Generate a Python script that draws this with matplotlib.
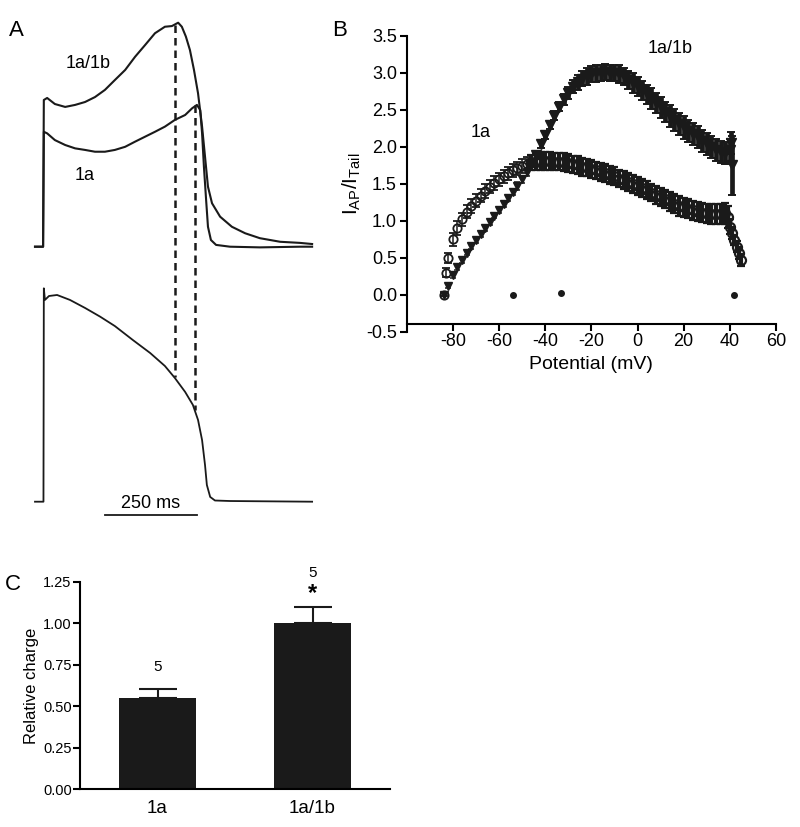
import matplotlib
matplotlib.use("Agg")
import matplotlib.pyplot as plt

plt.rcParams['font.family'] = ['Liberation Sans', 'DejaVu Sans']
plt.rcParams['mathtext.fontset'] = 'custom'
plt.rcParams['mathtext.rm'] = 'Liberation Sans'
plt.rcParams['axes.unicode_minus'] = False

# ---- panel A: currents during AP clamp (normalised) and the AP command (mV)
t_ab = [0, 22, 24, 33, 54, 82, 109, 136, 163, 190, 217, 245, 272, 299, 326, 353,
        372, 389, 399, 410, 421, 432, 443, 454, 462, 470, 481, 503, 535, 571, 611,
        666, 720, 753]
i_trace_ab = [0.0, 0.0, 0.655, 0.664, 0.637, 0.624, 0.633, 0.646, 0.668, 0.70, 0.744,
              0.789, 0.848, 0.90, 0.953, 0.982, 0.985, 1.0, 0.982, 0.938, 0.878, 0.789,
              0.685, 0.536, 0.402, 0.268, 0.194, 0.134, 0.089, 0.06, 0.038, 0.022,
              0.017, 0.012]
t_a = [0, 22, 24, 33, 54, 82, 109, 136, 163, 190, 217, 245, 272, 299, 326, 353,
       380, 408, 427, 440, 449, 454, 459, 465, 470, 478, 492, 530, 611, 720, 753]
i_trace_a = [0.0, 0.0, 0.513, 0.506, 0.476, 0.454, 0.439, 0.432, 0.424, 0.424, 0.432,
             0.446, 0.469, 0.491, 0.513, 0.536, 0.566, 0.588, 0.618, 0.633, 0.61,
             0.506, 0.357, 0.208, 0.089, 0.03, 0.008, 0.0, -0.003, 0.0, 0.0]
t_ap = [0, 23, 24, 27, 38, 60, 95, 136, 177, 217, 266, 313, 353, 380, 408, 429,
        443, 454, 462, 467, 476, 489, 530, 753]
v_ap = [-85, -85, 40, 33.2, 35.5, 36.1, 33.2, 28.5, 23.4, 17.9, 9.7, 2.1, -5.5,
        -12.5, -20.7, -28.3, -37.1, -48.9, -63.5, -75.2, -82.2, -84.3, -84.6, -85]
mark_t = [380, 435]
mark_i = [0.99, 0.633]
mark_v = [-12.0, -31.3]

# ---- panel B: I_AP / I_Tail versus potential
v_ab = [-84, -82, -80, -78, -76, -74, -72, -70, -68, -66, -64, -62, -60, -58, -56,
        -54, -52, -50, -48, -46, -44, -42, -40, -38, -36, -34, -32, -30, -28, -26,
        -24, -22, -20, -18, -16, -14, -12, -10, -8, -6, -4, -2, 0, 2, 4, 6, 8, 10,
        12, 14, 16, 18, 20, 22, 24, 26, 28, 30, 32, 34, 36, 38, 40, 40.5, 41]
r_ab = [0.0, 0.12, 0.27, 0.37, 0.47, 0.57, 0.66, 0.74, 0.82, 0.90, 0.98, 1.07, 1.15,
        1.23, 1.31, 1.39, 1.47, 1.56, 1.66, 1.77, 1.89, 2.03, 2.16, 2.29, 2.42, 2.54,
        2.64, 2.73, 2.81, 2.87, 2.92, 2.95, 2.98, 2.99, 3.00, 3.01, 3.00, 3.00, 2.98,
        2.95, 2.90, 2.86, 2.81, 2.76, 2.71, 2.65, 2.59, 2.53, 2.47, 2.41, 2.36, 2.31,
        2.26, 2.21, 2.17, 2.13, 2.08, 2.04, 2.00, 1.96, 1.93, 1.92, 1.95, 2.05, 1.75]
e_ab = [0.02, 0.03, 0.04, 0.04, 0.04, 0.04, 0.04, 0.04, 0.04, 0.04, 0.04, 0.04, 0.04,
        0.04, 0.04, 0.04, 0.05, 0.05, 0.05, 0.05, 0.05, 0.05, 0.05, 0.05, 0.06, 0.06,
        0.07, 0.08, 0.09, 0.10, 0.10, 0.11, 0.11, 0.11, 0.11, 0.11, 0.11, 0.11, 0.12,
        0.12, 0.12, 0.13, 0.13, 0.13, 0.13, 0.14, 0.14, 0.14, 0.14, 0.15, 0.15, 0.15,
        0.15, 0.15, 0.15, 0.15, 0.15, 0.15, 0.15, 0.15, 0.15, 0.15, 0.16, 0.15, 0.40]
v_a = [-84, -83, -82, -80, -78, -76, -74, -72, -70, -68, -66, -64, -62, -60, -58,
       -56, -54, -52, -50, -48, -46, -44, -42, -40, -38, -36, -34, -32, -30, -28,
       -26, -24, -22, -20, -18, -16, -14, -12, -10, -8, -6, -4, -2, 0, 2, 4, 6, 8,
       10, 12, 14, 16, 18, 20, 22, 24, 26, 28, 30, 32, 34, 36, 38, 39, 40, 41, 42,
       43, 44, 45]
r_a = [0.0, 0.3, 0.5, 0.75, 0.9, 1.02, 1.12, 1.2, 1.27, 1.34, 1.4, 1.46, 1.51, 1.56,
       1.6, 1.64, 1.68, 1.71, 1.74, 1.77, 1.79, 1.8, 1.81, 1.81, 1.81, 1.8, 1.8, 1.79,
       1.78, 1.76, 1.75, 1.73, 1.72, 1.7, 1.68, 1.66, 1.64, 1.62, 1.6, 1.57, 1.55,
       1.52, 1.5, 1.47, 1.44, 1.41, 1.38, 1.35, 1.32, 1.29, 1.26, 1.23, 1.2, 1.18,
       1.16, 1.14, 1.12, 1.11, 1.1, 1.09, 1.09, 1.09, 1.1, 1.05, 0.92, 0.83, 0.74,
       0.65, 0.56, 0.47]
e_a = [0.02, 0.06, 0.07] + [0.09] * 17 + [0.10, 0.11] + [0.12] * 28 + [0.13] * 11 + \
      [0.13, 0.14, 0.15, 0.10, 0.08, 0.07, 0.07, 0.08, 0.08]
v_dots = [-54, -33, 42]
r_dots = [-0.01, 0.02, 0.0]

# ---- panel C: relative charge
groups = ['1a', '1a/1b']
charge = [0.55, 1.00]
charge_sem = [0.055, 0.10]
n_cells = [5, 5]

fig = plt.figure(figsize=(8, 8.27), dpi=100)
W, H = 800.0, 827.0
ink = '#1a1a1a'

# panel A
axA = fig.add_axes([0, 1 - 520 / H, 330 / W, 520 / H])
axA.set_xlim(-95.1, 801.6)
axA.set_ylim(520, 0)
axA.axis('off')
cur_y = lambda vals: [246.7 - 224 * v for v in vals]
ap_y = lambda vals: [501.7 - 1.707 * (v + 85) for v in vals]
axA.plot(t_ab, cur_y(i_trace_ab), color=ink, lw=1.5)
axA.plot(t_a, cur_y(i_trace_a), color=ink, lw=1.5)
axA.plot(t_ap, ap_y(v_ap), color=ink, lw=1.3)
for t, i, v in zip(mark_t, mark_i, mark_v):
    axA.plot([t, t], [cur_y([i])[0], ap_y([v])[0]], color=ink, lw=1.8,
             dashes=(3, 2))
axA.plot([190, 440], [515, 515], color=ink, lw=1.3)
axA.text(315, 503, '250 ms', ha='center', va='center', fontsize=13)
axA.text(145, 63, '1a/1b', ha='center', va='center', fontsize=13)
axA.text(136, 175, '1a', ha='center', va='center', fontsize=13)

# panel B
axB = fig.add_axes([406.7 / W, 1 - 331.7 / H, 369.3 / W, 296 / H])
# sparse fast-repolarisation part: individual symbols visible
k_a, k_ab = 21, 20
axB.errorbar(v_a[:k_a], r_a[:k_a], yerr=e_a[:k_a], fmt='o', ms=6, mfc='none',
             mec=ink, mew=1.3, ecolor=ink, elinewidth=1.1, capsize=2.8,
             capthick=1.1, zorder=2)
axB.errorbar(v_ab[:k_ab], r_ab[:k_ab], yerr=e_ab[:k_ab], fmt='v', ms=6, color=ink,
             ecolor=ink, elinewidth=1.2, capsize=2.2, capthick=1.1, zorder=3)
# dense plateau part: symbols and error bars merge into a band
axB.errorbar(v_a[k_a - 1:], r_a[k_a - 1:], yerr=e_a[k_a - 1:], fmt='o', ms=6.5,
             mfc='none', mec=ink, mew=1.6, ecolor=ink, elinewidth=3.0, capsize=3,
             capthick=1.4, zorder=2)
axB.errorbar(v_ab[k_ab - 1:], r_ab[k_ab - 1:], yerr=e_ab[k_ab - 1:], fmt='v', ms=7.5,
             color=ink, ecolor=ink, elinewidth=3.4, capsize=3, capthick=1.4,
             zorder=3)
axB.plot(v_dots, r_dots, 'o', color=ink, ms=4)
axB.set_xlim(-100, 60)
axB.set_ylim(-0.5, 3.5)
axB.set_xticks([-80, -60, -40, -20, 0, 20, 40, 60])
axB.set_yticks([-0.5, 0.0, 0.5, 1.0, 1.5, 2.0, 2.5, 3.0, 3.5])
axB.set_yticklabels(['-0.5', '0.0', '0.5', '1.0', '1.5', '2.0', '2.5', '3.0', '3.5'])
axB.spines['top'].set_visible(False)
axB.spines['right'].set_visible(False)
axB.spines['bottom'].set_position(('data', -0.39))
for s in ['left', 'bottom']:
    axB.spines[s].set_linewidth(1.5)
axB.tick_params(width=1.5, length=5, labelsize=13, direction='out', pad=2)
axB.set_xlabel('Potential (mV)', fontsize=14, labelpad=4)
axB.set_ylabel(r'$\mathregular{I_{AP}/I_{Tail}}$', fontsize=15, labelpad=2)
axB.text(-68, 2.19, '1a', ha='center', va='center', fontsize=13)
axB.text(14, 3.33, '1a/1b', ha='center', va='center', fontsize=13)

# panel C
axC = fig.add_axes([80 / W, 1 - 789.3 / H, 310 / W, 207.6 / H])
x = [0, 1]
axC.bar(x, charge, width=0.5, color=ink, zorder=2)
axC.errorbar(x, charge, yerr=[[0, 0], charge_sem], fmt='none', ecolor=ink,
             elinewidth=1.5, capsize=14, capthick=1.5, zorder=1)
for xi, c, s, n in zip(x, charge, charge_sem, n_cells):
    off = 0.11 if xi == 1 else 0.04
    axC.text(xi, c + s + off + 0.05, str(n), ha='center', va='bottom', fontsize=11)
axC.text(1, charge[1] + charge_sem[1] + 0.01, '*', ha='center', va='bottom',
         fontsize=17, fontweight='bold')
axC.set_xlim(-0.5, 1.5)
axC.set_ylim(0, 1.25)
axC.set_yticks([0, 0.25, 0.5, 0.75, 1.0, 1.25])
axC.set_yticklabels(['0.00', '0.25', '0.50', '0.75', '1.00', '1.25'])
axC.set_xticks(x)
axC.set_xticklabels(groups, fontsize=13.5)
axC.tick_params(axis='x', length=0, pad=8)
axC.tick_params(axis='y', width=1.5, length=5, labelsize=10.5, pad=1)
axC.spines['top'].set_visible(False)
axC.spines['right'].set_visible(False)
for s in ['left', 'bottom']:
    axC.spines[s].set_linewidth(1.5)
axC.set_ylabel('Relative charge', fontsize=12, labelpad=3)

fig.text(16 / W, 1 - 30 / H, 'A', fontsize=16, ha='center', va='center')
fig.text(340 / W, 1 - 30 / H, 'B', fontsize=16, ha='center', va='center')
fig.text(13 / W, 1 - 585 / H, 'C', fontsize=16, ha='center', va='center')

fig.savefig('out.png', dpi=100)
